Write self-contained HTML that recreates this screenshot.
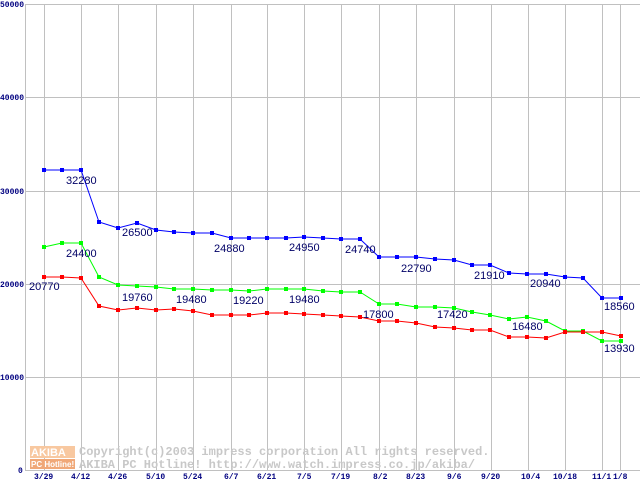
<!DOCTYPE html>
<html><head><meta charset="utf-8"><style>
html,body{margin:0;padding:0;background:#fff;width:640px;height:480px;overflow:hidden}
svg{display:block}
.t{font-family:"Liberation Sans",sans-serif;font-size:11px;fill:#000066}
.ax{font-family:"Liberation Mono",monospace;font-size:8px;font-weight:bold;fill:#000080}
.wm{font-family:"Liberation Mono",monospace;font-size:12px;font-weight:bold;fill:#c8c8c8}
</style></head><body>
<svg width="640" height="480" xmlns="http://www.w3.org/2000/svg">
<g stroke="#c0c0c0" stroke-width="1" shape-rendering="crispEdges">
<line x1="25" y1="4.5" x2="640" y2="4.5"/>
<line x1="25" y1="97.5" x2="640" y2="97.5"/>
<line x1="25" y1="191.5" x2="640" y2="191.5"/>
<line x1="25" y1="284.5" x2="640" y2="284.5"/>
<line x1="25" y1="377.5" x2="640" y2="377.5"/>
<line x1="25" y1="470.5" x2="640" y2="470.5"/>
<line x1="25.5" y1="4" x2="25.5" y2="471"/>
<line x1="44.5" y1="4" x2="44.5" y2="471"/>
<line x1="81.5" y1="4" x2="81.5" y2="471"/>
<line x1="118.5" y1="4" x2="118.5" y2="471"/>
<line x1="156.5" y1="4" x2="156.5" y2="471"/>
<line x1="193.5" y1="4" x2="193.5" y2="471"/>
<line x1="231.5" y1="4" x2="231.5" y2="471"/>
<line x1="267.5" y1="4" x2="267.5" y2="471"/>
<line x1="304.5" y1="4" x2="304.5" y2="471"/>
<line x1="341.5" y1="4" x2="341.5" y2="471"/>
<line x1="379.5" y1="4" x2="379.5" y2="471"/>
<line x1="416.5" y1="4" x2="416.5" y2="471"/>
<line x1="454.5" y1="4" x2="454.5" y2="471"/>
<line x1="491.5" y1="4" x2="491.5" y2="471"/>
<line x1="528.5" y1="4" x2="528.5" y2="471"/>
<line x1="565.5" y1="4" x2="565.5" y2="471"/>
<line x1="602.5" y1="4" x2="602.5" y2="471"/>
<line x1="620.5" y1="4" x2="620.5" y2="471"/>
</g>
<text class="ax" x="0" y="7">50000</text>
<text class="ax" x="0" y="100">40000</text>
<text class="ax" x="0" y="194">30000</text>
<text class="ax" x="0" y="287">20000</text>
<text class="ax" x="0" y="380">10000</text>
<text class="ax" x="18" y="473">0</text>
<g class="ax">
<text x="34" y="479">3/29</text><text x="71" y="479">4/12</text><text x="108" y="479">4/26</text>
<text x="146" y="479">5/10</text><text x="183" y="479">5/24</text><text x="224" y="479">6/7</text>
<text x="257" y="479">6/21</text><text x="297" y="479">7/5</text><text x="331" y="479">7/19</text>
<text x="373" y="479">8/2</text><text x="406" y="479">8/23</text><text x="447" y="479">9/6</text>
<text x="481" y="479">9/20</text><text x="521" y="479">10/4</text><text x="553" y="479">10/18</text>
<text x="592" y="479">11/1</text><text x="613" y="479">1/8</text>
</g>
<rect x="30" y="446" width="45" height="12" fill="#f8c8a0"/>
<rect x="30" y="459" width="45" height="10" fill="#f0a878"/>
<text x="31" y="456" style="font-family:'Liberation Sans',sans-serif;font-size:11px;font-weight:bold;fill:#fff">AKIBA</text>
<text x="31" y="467" style="font-family:'Liberation Sans',sans-serif;font-size:8px;font-weight:bold;fill:#fff">PC Hotline!</text>
<text class="wm" x="79" y="455">Copyright(c)2003 impress corporation All rights reserved.</text>
<text class="wm" x="79" y="468">AKIBA PC Hotline!  http://www.watch.impress.co.jp/akiba/</text>
<g fill="none" stroke-width="1">
<polyline stroke="#0000ff" points="44,170 62,170 81,170 99,222 118,228 137,223 156,230 174,232 193,233 212,233 231,238 249,238 267,238 286,238 304,237 323,238 341,239 360,239 379,257 397,257 416,257 435,259 454,260 472,265 490,265 509,273 527,274 546,274 565,277 583,278 602,298 621,298"/>
<polyline stroke="#00ff00" points="44,247 62,243 81,243 99,277 118,285 137,286 156,287 174,289 193,289 212,290 231,290 249,291 267,289 286,289 304,289 323,291 341,292 360,292 379,304 397,304 416,307 435,307 454,308 472,312 490,315 509,319 527,317 546,321 565,331 583,331 602,341 621,341"/>
<polyline stroke="#ff0000" points="44,277 62,277 81,278 99,306 118,310 137,308 156,310 174,309 193,311 212,315 231,315 249,315 267,313 286,313 304,314 323,315 341,316 360,317 379,321 397,321 416,323 435,327 454,328 472,330 490,330 509,337 527,337 546,338 565,332 583,332 602,332 621,336"/>
</g>
<g id="pts"></g>
<g class="t">
<text x="66" y="184">32280</text><text x="66" y="257">24400</text><text x="29" y="290">20770</text>
<text x="122" y="236">26500</text><text x="122" y="301">19760</text><text x="176" y="303">19480</text>
<text x="214" y="252">24880</text><text x="233" y="304">19220</text><text x="289" y="251">24950</text>
<text x="289" y="303">19480</text><text x="345" y="253">24740</text><text x="363" y="318">17800</text>
<text x="401" y="272">22790</text><text x="437" y="318">17420</text><text x="474" y="279">21910</text>
<text x="512" y="330">16480</text><text x="530" y="287">20940</text><text x="604" y="310">18560</text>
<text x="604" y="352">13930</text>
</g>
<script>
var g=document.getElementById('pts');
document.querySelectorAll('polyline').forEach(function(p){
 var c=p.getAttribute('stroke');
 p.getAttribute('points').split(' ').forEach(function(s){
  var a=s.split(',');var r=document.createElementNS('http://www.w3.org/2000/svg','rect');
  r.setAttribute('x',a[0]-2);r.setAttribute('y',a[1]-2);r.setAttribute('width',4);r.setAttribute('height',4);r.setAttribute('fill',c);g.appendChild(r);
 });
});
</script>
</svg>
</body></html>
